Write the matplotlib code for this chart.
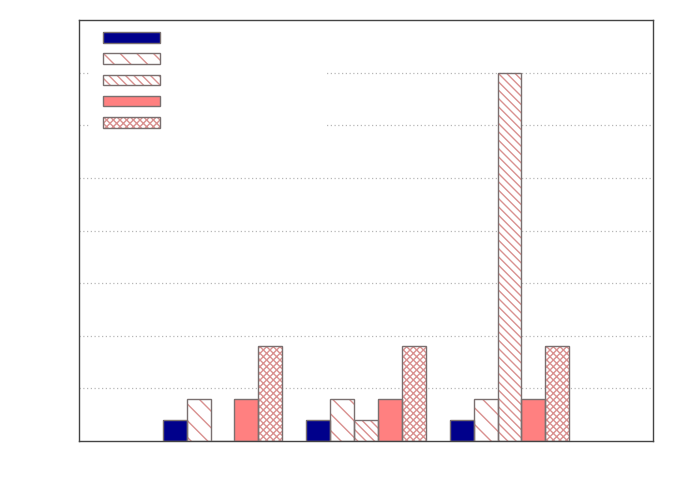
import matplotlib
matplotlib.use("Agg")
import matplotlib.pyplot as plt
from matplotlib.patches import Rectangle, Patch
from matplotlib.legend_handler import HandlerTuple
import numpy as np

groups = [1, 2, 3]
series_a = [0.4, 0.4, 0.4]
series_b = [0.8, 0.8, 0.8]
series_c = [0.0, 0.4, 7.0]
series_d = [0.8, 0.8, 0.8]
series_e = [1.8, 1.8, 1.8]

fills = ["#00008b", "white", "white", "#ff8080", "white"]
hatches = [None, "\\\\", "\\\\\\\\", None, "xxxxx"]
hatch_col = "#d9908f"
edge_col = "#7a7070"
plt.rcParams["hatch.color"] = hatch_col

fig = plt.figure(figsize=(6.92, 4.85), dpi=100)
ax = fig.add_axes([79/692, 43/485, 574/692, 421/485])
ax.set_xlim(0, 4)
ax.set_ylim(0, 8)
ax.set_yticks(np.arange(1, 8))
ax.set_xticks([])
ax.tick_params(left=False, labelleft=False)
ax.yaxis.grid(True, linestyle=(0, (1, 2)), color="#b8b8b8", linewidth=0.9, zorder=0)
ax.set_axisbelow(True)
for s in ax.spines.values():
    s.set_color("#444444")
    s.set_linewidth(1.0)

# white area behind the (label-less) legend
ax.add_patch(Rectangle((0.019, 0.73), 0.41, 0.26, transform=ax.transAxes,
                       facecolor="white", edgecolor="none", zorder=1))

w = 1/6
series = [series_a, series_b, series_c, series_d, series_e]
x = np.array(groups, dtype=float)
handles = []
for i, vals in enumerate(series):
    off = (i - 2) * w
    vals = np.array(vals)
    ax.bar(x + off, vals, width=w, color=fills[i], edgecolor=hatch_col if hatches[i] else "none",
           hatch=hatches[i], linewidth=0, zorder=2)
    ax.bar(x + off, vals, width=w, fill=False, edgecolor=edge_col, linewidth=1.0, zorder=3)
    p1 = Patch(facecolor=fills[i], edgecolor=hatch_col if hatches[i] else "none",
               hatch=hatches[i], linewidth=0)
    p2 = Patch(fill=False, edgecolor=edge_col, linewidth=1.0)
    handles.append((p1, p2))

leg = ax.legend(handles, [""] * 5, loc="upper left", bbox_to_anchor=(0.037, 0.98),
                frameon=False, fontsize=10, handlelength=4.1, handleheight=0.8,
                labelspacing=0.52, borderaxespad=0, borderpad=0.2, handletextpad=0,
                handler_map={tuple: HandlerTuple(ndivide=1, pad=0)})

fig.savefig("out.png", dpi=100)
